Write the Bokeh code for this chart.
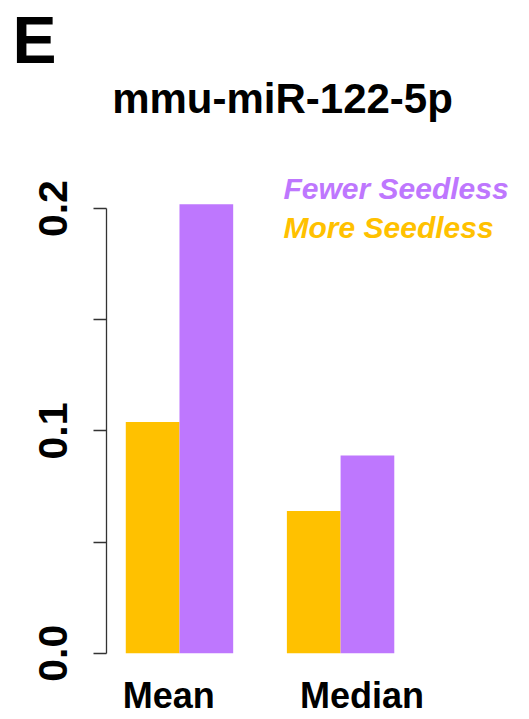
from bokeh.plotting import figure
from bokeh.models import Range1d, LinearAxis, FixedTicker, Label, ColumnDataSource
from bokeh.embed import file_html
from bokeh.resources import INLINE

# ---- data ----
categories = ["Mean", "Median"]
fewer_seedless = [0.202, 0.089]
more_seedless = [0.104, 0.064]
y_ticks = [0.0, 0.05, 0.1, 0.15, 0.2]
y_tick_labels = ["0.0", "", "0.1", "", "0.2"]
category_label_positions = [1.8, 5.4]   # where the names sit under the groups
title_text = "mmu-miR-122-5p"
panel_letter = "E"
legend_labels = ["Fewer Seedless", "More Seedless"]

ORANGE = "#FFC100"
PURPLE = "#BE77FE"
FONT = "Liberation Sans"

# group centres as in R barplot(beside=TRUE): bars of width 1, one gap between groups
centers = [2 + 3 * i for i in range(len(categories))]
y_axis_at = 0.64   # x position of the y axis (left edge of the R plot region)

p = figure(width=529, height=719, output_backend="svg", toolbar_location=None,
           title_location=None,
           x_range=Range1d(-1.333, 8.518), y_range=Range1d(-0.0298, 0.2936),
           min_border=0, outline_line_color=None)
p.xaxis.visible = False
p.yaxis.visible = False
p.xgrid.visible = False
p.ygrid.visible = False

src_more = ColumnDataSource(dict(x=[c - 0.5 for c in centers], top=more_seedless))
src_fewer = ColumnDataSource(dict(x=[c + 0.5 for c in centers], top=fewer_seedless))
p.vbar(x="x", top="top", bottom=0, width=1.0, source=src_more,
       fill_color=ORANGE, line_color=None)
p.vbar(x="x", top="top", bottom=0, width=1.0, source=src_fewer,
       fill_color=PURPLE, line_color=None)

# y axis
yax = LinearAxis(ticker=FixedTicker(ticks=y_ticks),
                 major_label_overrides={t: l for t, l in zip(y_ticks, y_tick_labels)},
                 bounds=(0, 0.2), fixed_location=y_axis_at)
yax.major_label_orientation = "vertical"
yax.major_label_text_font = FONT
yax.major_label_text_font_style = "bold"
yax.major_label_text_font_size = "41px"
yax.major_label_text_color = "black"
yax.major_label_standoff = 26
yax.major_tick_out = 13
yax.major_tick_in = 0
yax.minor_tick_line_color = None
yax.axis_line_color = "#333333"
yax.major_tick_line_color = "#333333"
yax.axis_line_width = 1.3
yax.major_tick_line_width = 1.3
p.add_layout(yax, "left")

# x axis (labels only)
xax = LinearAxis(ticker=FixedTicker(ticks=category_label_positions),
                 major_label_overrides={c: n for c, n in zip(category_label_positions, categories)},
                 fixed_location=0)
xax.axis_line_color = None
xax.major_tick_line_color = None
xax.minor_tick_line_color = None
xax.major_tick_out = 0
xax.major_tick_in = 0
xax.major_label_standoff = 22
xax.major_label_text_font = FONT
xax.major_label_text_font_style = "bold"
xax.major_label_text_font_size = "36px"
xax.major_label_text_color = "black"
p.add_layout(xax, "below")

# panel letter, title and legend texts (screen units relative to the plot frame)
p.add_layout(Label(x=12, y=680, x_units="screen", y_units="screen", text=panel_letter,
                   text_font=FONT, text_font_style="bold", text_font_size="66px",
                   text_align="left", text_baseline="alphabetic", text_color="black"))
p.add_layout(Label(x=282, y=621, x_units="screen", y_units="screen", text=title_text,
                   text_font=FONT, text_font_style="bold", text_font_size="42px",
                   text_align="center", text_baseline="alphabetic", text_color="black"))
p.add_layout(Label(x=283, y=531, x_units="screen", y_units="screen", text=legend_labels[0],
                   text_font=FONT, text_font_style="bold italic", text_font_size="30px",
                   text_align="left", text_baseline="alphabetic", text_color=PURPLE))
p.add_layout(Label(x=283, y=492, x_units="screen", y_units="screen", text=legend_labels[1],
                   text_font=FONT, text_font_style="bold italic", text_font_size="30px",
                   text_align="left", text_baseline="alphabetic", text_color=ORANGE))

open("out.html", "w").write(file_html(p, INLINE))
